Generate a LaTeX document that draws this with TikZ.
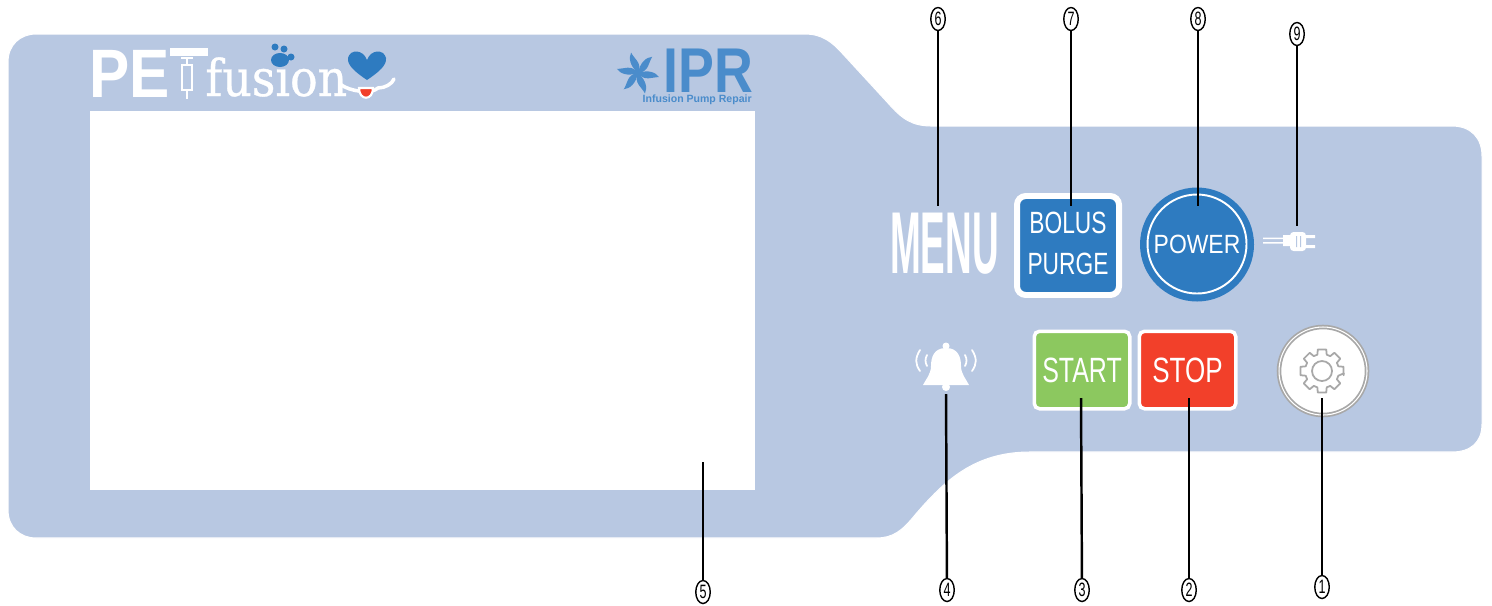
\documentclass[tikz,border=0pt]{standalone}
\usepackage{fontspec}
\usepackage{graphicx}
\setsansfont{Liberation Sans}
\newfontfamily\slabfont[FakeBold=0.7]{DejaVu Serif}
\usetikzlibrary{positioning,shapes.geometric,calc}
\definecolor{panelblue}{HTML}{B8C8E2}
\definecolor{btnblue}{HTML}{2E7BC0}
\definecolor{logoblue}{HTML}{4A8CCB}
\definecolor{btngreen}{HTML}{8CC85F}
\definecolor{btnred}{HTML}{F2402A}
\definecolor{geargray}{HTML}{A8A8A8}
\newcommand{\squeeze}[2]{\scalebox{#1}[1]{#2}}

\begin{document}
\begin{tikzpicture}[x=0.2mm,y=-0.2mm,
  num/.style={draw=black,ellipse,line width=0.8pt,inner sep=0pt,fill=white,
              minimum width=2.9mm,minimum height=4.6mm,font=\sffamily\fontsize{11}{12}\selectfont},
  lead/.style={black,line width=1.4pt},
  thinlead/.style={black,line width=0.9pt},
  btn/.style={draw=white,rounded corners=3pt,line width=2pt,text=white,align=center,
              font=\sffamily\fontsize{20}{22}\selectfont},
  whiteicon/.style={fill=white,draw=none}]
\useasboundingbox (0,0) rectangle (1492,605);
\draw[fill=panelblue,draw=white,line width=0.6pt] (8,62) .. controls (8,45) and (20,34) .. (36,34) -- (805,34)
  .. controls (822,34) and (832,42) .. (842,53) -- (888,103)
  .. controls (902,119) and (912,126) .. (932,126) -- (1452,126)
  .. controls (1471,126) and (1482,138) .. (1482,156) -- (1482,424)
  .. controls (1482,442) and (1471,452) .. (1452,452) -- (1030,452)
  .. controls (975,452) and (945,480) .. (915,515)
  .. controls (902,531) and (893,538) .. (876,538) -- (36,538)
  .. controls (20,538) and (8,527) .. (8,510) -- cycle;
\node[fill=white,minimum width=133mm,minimum height=75.8mm,inner sep=0pt,anchor=north west] (screen) at (90,111) {};

\node[text=white,font=\sffamily\bfseries\fontsize{39}{40}\selectfont,anchor=base west,inner sep=0pt] (pet) at (89,97) {\squeeze{.88}{PE}};
\fill[white] (170,48) rectangle (208,56);
\draw[white,line width=0.8pt] (181,58) -- (193,58) (187,58) -- (187,65) (182,65) rectangle (192,90) (187,90) -- (187,99);
\node[text=white,font=\slabfont\fontsize{29}{30}\selectfont,anchor=base west,inner sep=0pt] (fusion) at (205,96) {\squeeze{.9}{fusion}};
\fill[btnblue] (280,60) ellipse (9 and 7) (275,47) circle (3.5) (284,49) circle (3.5) (291,57) circle (3.5);
\draw[white,line width=2pt,line cap=round] (340,84) .. controls (350,92) and (372,94) .. (378,88) .. controls (385,88) and (392,84) .. (394,79);
\fill[btnblue] (367,80) .. controls (355,72) and (347,65) .. (348,58) .. controls (350,49) and (363,49) .. (367,60)
  .. controls (371,49) and (384,49) .. (386,58) .. controls (387,65) and (379,72) .. (367,80) -- cycle;
\draw[white,fill=btnred,line width=1.2pt] (359,88) -- (373,88) .. controls (373,101) and (359,101) .. (359,88) -- cycle;

\node[text=logoblue,font=\sffamily\bfseries\fontsize{36}{37}\selectfont,anchor=base west,inner sep=0pt] (ipr) at (663,92) {\squeeze{.85}{IPR}};
\node[text=logoblue,font=\sffamily\bfseries\fontsize{6}{7}\selectfont,anchor=base east,inner sep=0pt] (iprsub) at (752,102) {Infusion Pump Repair};
\foreach \a in {15,75,135,195,255,315}
  \fill[logoblue,rotate around={\a:(638,73)}] (638,73) .. controls (643,63) and (650,60) .. (656,61) .. controls (651,65) and (649,75) .. (638,73) -- cycle;
\fill[logoblue] (638,73) circle (4);

\node[text=white,font=\sffamily\bfseries\fontsize{50}{52}\selectfont] (menu) at (944.5,244) {\squeeze{.42}{MENU}};
\node[btn,fill=btnblue,line width=3.4pt,rounded corners=5pt,minimum width=20.4mm,minimum height=19.8mm] (bolus) at (1068,245.5) {};
\node[text=white,align=center,font=\sffamily\fontsize{17.5}{23.3}\selectfont] (boluslabel) at (1068,243.5) {\squeeze{.74}{BOLUS}\\\squeeze{.74}{PURGE}};
\node[circle,fill=btnblue,minimum size=22.8mm,inner sep=0pt] (powerbg) at (1197,244.5) {};
\node[circle,draw=white,line width=1.1pt,text=white,minimum size=19.8mm,inner sep=0pt,
      font=\sffamily\fontsize{15}{16}\selectfont] (power) at (1197,244) {\squeeze{.87}{POWER}};
\fill[white] (1263,237.5) rectangle (1283,239) (1263,242) rectangle (1283,243.5) (1283,235) rectangle (1290,246);
\fill[white,rounded corners=2pt] (1290,232) rectangle (1306,251);
\fill[white] (1306,235) rectangle (1315,238) (1306,245) rectangle (1315,248);
\fill[panelblue] (1296,236) rectangle (1297,247) (1300,236) rectangle (1301,247);

\fill[whiteicon] (946,346) circle (3.5) (946,387) circle (4);
\fill[whiteicon] (946,348) .. controls (934,348) and (931,357) .. (931,366) .. controls (931,374) and (926,379) .. (923,385)
  -- (969,385) .. controls (966,379) and (961,374) .. (961,366) .. controls (961,357) and (958,348) .. (946,348) -- cycle;
\draw[white,line width=1pt,line cap=round] (920,350) .. controls (915,358) and (915,364) .. (920,371)
  (927,355) .. controls (925,359) and (925,362) .. (927,366)
  (972,350) .. controls (977,358) and (977,364) .. (972,371)
  (965,355) .. controls (967,359) and (967,362) .. (965,366);
\node[btn,fill=btngreen,minimum width=19.1mm,minimum height=15.5mm] (start) at (1082,370) {\squeeze{.71}{START}};
\node[btn,fill=btnred,minimum width=19.3mm,minimum height=15.5mm] (stop) at (1187.5,370) {\squeeze{.74}{STOP}};
\node[circle,fill=white,draw=geargray,line width=1pt,minimum size=17.6mm,inner sep=0pt,double=white] (gearbtn) at (1323,371) {};
\draw[geargray,line width=1pt,line join=round] (1322,371) ++(-6:4.4mm)
  \foreach \a in {0,45,...,315} { -- ($(1322,371)+(\a-11:4.4mm)$) -- ($(1322,371)+(\a+11:4.4mm)$) -- ($(1322,371)+(\a+16:3.4mm)$) -- ($(1322,371)+(\a+29:3.4mm)$) } -- cycle;
\draw[geargray,line width=1pt] (1322,371) circle (2mm);

\foreach \name/\txt/\px/\py in {n1/1/1322/587,n2/2/1189/590,n3/3/1082/590,n4/4/947/590,n5/5/703/592,n6/6/938/19,n7/7/1071/19,n8/8/1198/19,n9/9/1297/34}
  \node[num] (\name) at (\px,\py) {\squeeze{.65}{\txt}};
\coordinate (gearpt) at (1322,398);
\coordinate (stoppt) at (1189,398);
\coordinate (startpt) at (1081,398);
\coordinate (bellpt) at (946,394);
\coordinate (screenpt) at (703,462);
\coordinate (menupt) at (938,206);
\coordinate (boluspt) at (1071,206);
\coordinate (powerpt) at (1198,206);
\coordinate (plugpt) at (1297,226);
\draw[lead] (n1) -- (gearpt);
\draw[lead] (n2) -- (stoppt);
\draw[lead] (n3) -- (startpt);
\draw[lead] (n4) -- (bellpt);
\draw[lead] (n5) -- (screenpt);
\draw[lead] (n6) -- (menupt);
\draw[lead] (n7) -- (boluspt);
\draw[lead] (n8) -- (powerpt);
\draw[thinlead] (n9) -- (plugpt);
\end{tikzpicture}
\end{document}
